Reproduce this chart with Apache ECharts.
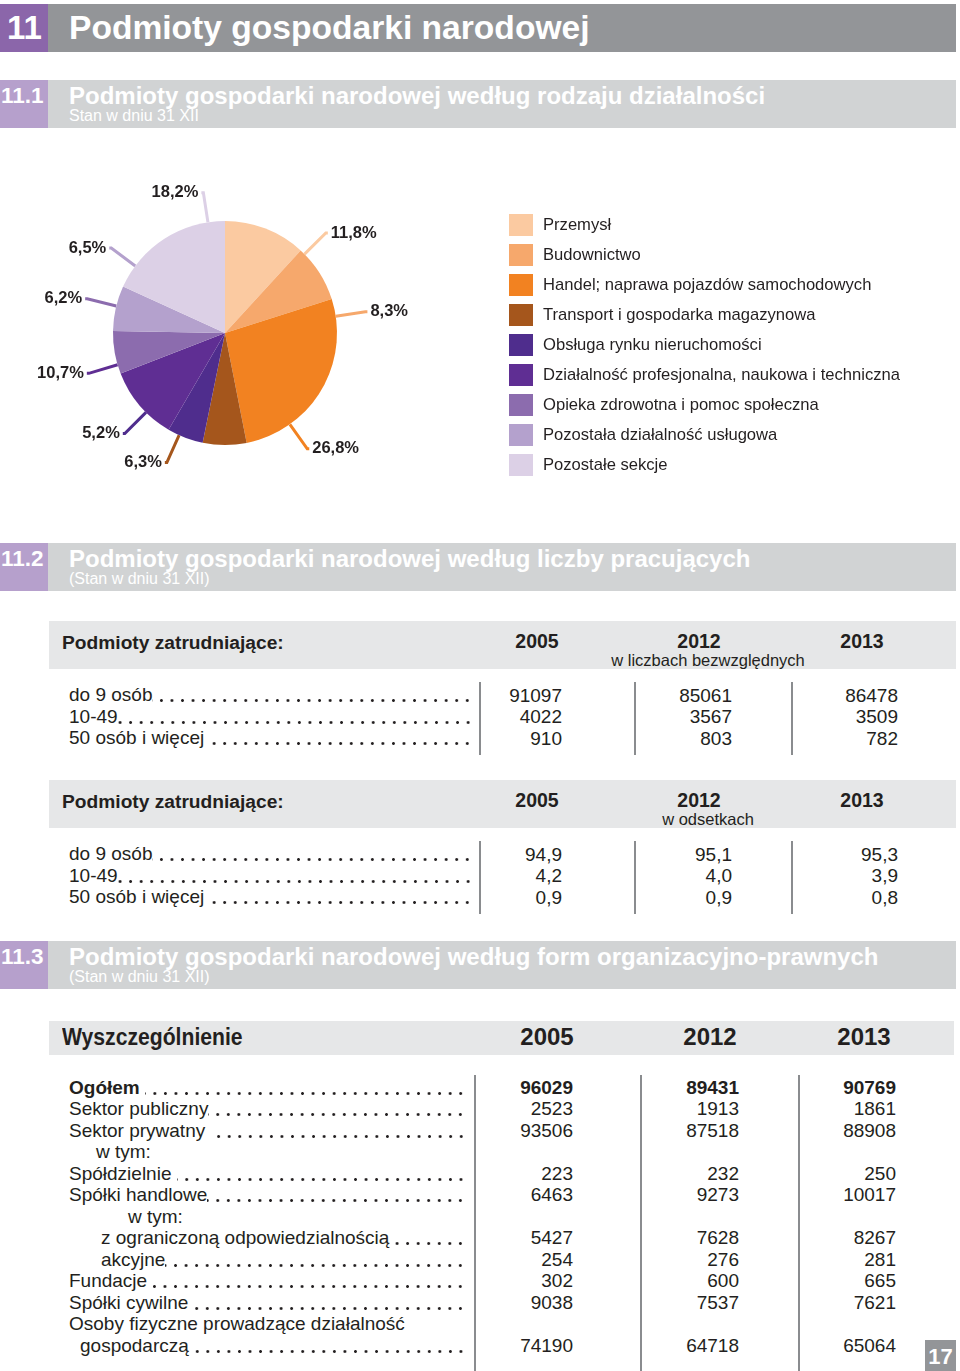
<!DOCTYPE html>
<html lang="pl">
<head>
<meta charset="utf-8">
<script src="https://cdn.jsdelivr.net/npm/echarts@6/dist/echarts.min.js"></script>
<style>
  html, body { margin: 0; padding: 0; background: #ffffff; }
  body { width: 960px; height: 1371px; position: relative; overflow: hidden;
         font-family: "Liberation Sans", Arial, Helvetica, sans-serif; color: #231f20; }
  #chart { position: absolute; left: 0; top: 0; width: 960px; height: 520px; z-index: 0; }
  .abs { position: absolute; white-space: nowrap; z-index: 1; }
  .lead { display: flex; }
  .lead .lbl { white-space: pre; flex: 0 0 auto; }
  .lead .dots { flex: 1 1 0; min-width: 0; height: 22px;
                background-image: radial-gradient(circle at 50% 50%, #231f20 1.15px, rgba(35,31,32,0) 1.65px);
                background-size: 10.56px 5px; background-repeat: repeat-x;
                background-position: right 0px top 14px; }
</style>
</head>
<body>
<div id="chart"></div>
<script>
// ---------- DATA ----------
const categories = [
  'Przemysł',
  'Budownictwo',
  'Handel; naprawa pojazdów samochodowych',
  'Transport i gospodarka magazynowa',
  'Obsługa rynku nieruchomości',
  'Działalność profesjonalna, naukowa i techniczna',
  'Opieka zdrowotna i pomoc społeczna',
  'Pozostała działalność usługowa',
  'Pozostałe sekcje'
];
const shares = [11.8, 8.3, 26.8, 6.3, 5.2, 10.7, 6.2, 6.5, 18.2];

const years = ['2005', '2012', '2013'];

const sizeRows = ['do 9 osób', '10-49', '50 osób i więcej '];
const sizeAbs2005 = ['91097', '4022', '910'];
const sizeAbs2012 = ['85061', '3567', '803'];
const sizeAbs2013 = ['86478', '3509', '782'];
const sizePct2005 = ['94,9', '4,2', '0,9'];
const sizePct2012 = ['95,1', '4,0', '0,9'];
const sizePct2013 = ['95,3', '3,9', '0,8'];

const formRows = [
  'Ogółem ', 'Sektor publiczny', 'Sektor prywatny ', 'w tym:', 'Spółdzielnie ',
  'Spółki handlowe', 'w tym:', 'z ograniczoną odpowiedzialnością', 'akcyjne',
  'Fundacje ', 'Spółki cywilne', 'Osoby fizyczne prowadzące działalność', 'gospodarczą'
];
const form2005 = ['96029', '2523', '93506', '', '223', '6463', '', '5427', '254', '302', '9038', '', '74190'];
const form2012 = ['89431', '1913', '87518', '', '232', '9273', '', '7628', '276', '600', '7537', '', '64718'];
const form2013 = ['90769', '1861', '88908', '', '250', '10017', '', '8267', '281', '665', '7621', '', '65064'];

// ---------- STYLE ----------
const sliceColors = ['#fbcaa1', '#f6a86c', '#f28221', '#a5561c', '#4f2d8d', '#5f2e93', '#8c6cae', '#b4a1cd', '#dcd0e6'];
const INK = '#231f20';
const FONT = '"Liberation Sans", Arial, Helvetica, sans-serif';

// ---------- PIE (ECharts) ----------
const chart = echarts.init(document.getElementById('chart'), null, { renderer: 'canvas' });
const pct = v => v.toFixed(1).replace('.', ',') + '%';
const mainData = categories.map((c, i) => ({ name: c, value: shares[i], itemStyle: { color: sliceColors[i] } }));
const labelData = categories.map((c, i) => ({
  name: c, value: shares[i],
  itemStyle: { color: 'rgba(0,0,0,0)' },
  labelLine: { lineStyle: { color: sliceColors[i], width: 3 } }
}));
chart.setOption({
  animation: false,
  legend: {
    orient: 'vertical', left: 509, top: 214, padding: 0,
    itemWidth: 24, itemHeight: 22, itemGap: 8, icon: 'rect',
    data: categories,
    textStyle: { fontFamily: FONT, fontSize: 16.6, color: INK, padding: [0, 0, 0, 5] },
    selectedMode: false
  },
  series: [
    {
      type: 'pie', name: 'main', center: [225, 333], radius: 112, startAngle: 90,
      clockwise: true, silent: true, z: 2,
      label: { show: false }, labelLine: { show: false },
      itemStyle: { borderWidth: 0 },
      data: mainData
    },
    {
      type: 'pie', name: 'labels', center: [225, 333], radius: 112, startAngle: 66,
      clockwise: true, silent: true, z: 1, avoidLabelOverlap: false,
      legendHoverLink: false,
      label: {
        show: true, position: 'outside', formatter: p => pct(p.value),
        fontFamily: FONT, fontSize: 16.5, fontWeight: 'bold', color: INK,
        distanceToLabelLine: 3
      },
      labelLine: { show: true, length: 30, length2: 2, smooth: false },
      data: labelData
    }
  ]
});

// ---------- PAGE (HTML) ----------
function el(style, text, cls) {
  const d = document.createElement('div');
  d.className = 'abs' + (cls ? ' ' + cls : '');
  Object.assign(d.style, style);
  if (text !== undefined) d.textContent = text;
  document.body.appendChild(d);
  return d;
}
function centerText(cx, cy, text, size, weight, color, h) {
  h = h || Math.round(size * 1.3);
  return el({ left: (cx - 150) + 'px', width: '300px', top: (cy - h / 2) + 'px', height: h + 'px',
       lineHeight: h + 'px', textAlign: 'center', fontSize: size + 'px', fontWeight: weight, color: color || INK }, text);
}
function leftText(x, cy, text, size, weight, color, h) {
  h = h || Math.round(size * 1.3);
  return el({ left: x + 'px', top: (cy - h / 2) + 'px', height: h + 'px', lineHeight: h + 'px',
       fontSize: size + 'px', fontWeight: weight, color: color || INK }, text);
}
function rightText(rx, cy, text, size, weight, h) {
  h = h || Math.round(size * 1.3);
  return el({ left: (rx - 200) + 'px', width: '200px', top: (cy - h / 2) + 'px', height: h + 'px', lineHeight: h + 'px',
       textAlign: 'right', fontSize: size + 'px', fontWeight: weight, color: INK }, text);
}
function leaderText(x, endX, cy, text, size, weight) {
  const h = 22;
  const d = el({ left: x + 'px', width: (endX - x) + 'px', top: (cy - h / 2) + 'px', height: h + 'px',
                 lineHeight: h + 'px', fontSize: size + 'px', fontWeight: weight, color: INK }, undefined, 'lead');
  const a = document.createElement('span'); a.className = 'lbl'; a.textContent = text; d.appendChild(a);
  const b = document.createElement('span'); b.className = 'dots'; d.appendChild(b);
}
function sectionBar(top, num, title, sub, major) {
  const boxColor = major ? '#8b66aa' : '#b6a0cc';
  const barColor = major ? '#939598' : '#d1d3d4';
  el({ left: '0px', top: top + 'px', width: '48px', height: '48px', background: boxColor });
  el({ left: '48px', top: top + 'px', width: '908px', height: '48px', background: barColor });
  if (major) {
    leftText(7, top + 23.5, num, 33, 'bold', '#ffffff', 40);
    leftText(69, top + 23.5, title, 33.6, 'bold', '#ffffff', 40);
  } else {
    leftText(1, top + 15.5, num, 22.5, 'bold', '#ffffff', 28);
    leftText(69, top + 15.5, title, 24, 'bold', '#ffffff', 28);
    leftText(69, top + 36, sub, 16, 'normal', '#ffffff', 18);
  }
}

// headers
sectionBar(4, '11', 'Podmioty gospodarki narodowej', '', true);
sectionBar(80, '11.1', 'Podmioty gospodarki narodowej według rodzaju działalności', 'Stan w dniu 31 XII', false);
sectionBar(543, '11.2', 'Podmioty gospodarki narodowej według liczby pracujących', '(Stan w dniu 31 XII)', false);
sectionBar(941, '11.3', 'Podmioty gospodarki narodowej według form organizacyjno-prawnych', '(Stan w dniu 31 XII)', false);

// table 11.2 (two blocks)
const sizeYearX = [537, 699, 862];
const sizeRight = [562, 732, 898];
const sizeSeps = [479, 634, 791];
function sizeBlock(top, unitText, cols) {
  el({ left: '49px', top: top + 'px', width: '907px', height: '48px', background: '#e6e7e8' });
  leftText(62, top + 21, 'Podmioty zatrudniające:', 19.2, 'bold');
  years.forEach((y, i) => centerText(sizeYearX[i], top + 20, y, 19.5, 'bold'));
  centerText(708, top + 39, unitText, 16.5, 'normal');
  const rowTop = top + 74;
  sizeRows.forEach((r, i) => {
    const cy = rowTop + i * 21.5;
    leaderText(69, 473, cy, r, 19, 'normal');
    cols.forEach((col, j) => rightText(sizeRight[j], cy, col[i], 19, 'normal'));
  });
  sizeSeps.forEach(x => el({ left: x + 'px', top: (top + 61) + 'px', width: '2px', height: '73px', background: '#8a8c8f' }));
}
sizeBlock(621, 'w liczbach bezwzględnych', [sizeAbs2005, sizeAbs2012, sizeAbs2013]);
sizeBlock(780, 'w odsetkach', [sizePct2005, sizePct2012, sizePct2013]);

// table 11.3
el({ left: '49px', top: '1021px', width: '905px', height: '34px', background: '#e6e7e8' });
const wys = leftText(62, 1037, 'Wyszczególnienie', 23.5, 'bold', INK, 30);
wys.style.transform = 'scaleX(0.9)';
wys.style.transformOrigin = '0 50%';
const formYearX = [547, 710, 864];
years.forEach((y, i) => centerText(formYearX[i], 1037, y, 24, 'bold', INK, 30));
const formRight = [573, 739, 896];
const formIndent = [69, 69, 69, 96, 69, 69, 128, 101, 101, 69, 69, 69, 80];
formRows.forEach((r, i) => {
  const cy = 1087.5 + i * 21.5;
  const bold = i === 0 ? 'bold' : 'normal';
  const vals = [form2005[i], form2012[i], form2013[i]];
  if (vals[0] === '') {
    leftText(formIndent[i], cy, r, 19, bold, INK, 22);
  } else {
    leaderText(formIndent[i], 466, cy, r, 19, bold);
    vals.forEach((v, j) => rightText(formRight[j], cy, v, 19, bold, 22));
  }
});
[474, 640, 798].forEach(x => el({ left: x + 'px', top: '1075px', width: '2px', height: '296px', background: '#8a8c8f' }));

// page number
el({ left: '925px', top: '1340px', width: '31px', height: '31px', background: '#939598',
     color: '#ffffff', fontSize: '22px', fontWeight: 'bold', textAlign: 'center', lineHeight: '33px' }, '17');
</script>
</body>
</html>
